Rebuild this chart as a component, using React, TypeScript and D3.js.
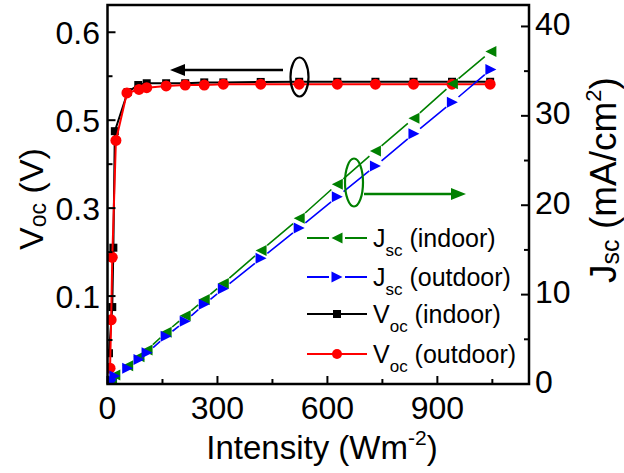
import React from "react";
import * as d3 from "d3";

// ---- data ----
const intensityJsc = [3, 7, 11, 20, 55, 86, 108, 160, 212, 264, 316, 419, 523, 627, 731, 836, 941, 1046];
const jscIndoor = [0.15, 0.3, 0.5, 1.0, 2.04, 3.04, 3.79, 5.79, 7.63, 9.44, 11.25, 14.93, 18.53, 22.36, 26.07, 29.73, 33.59, 37.21];
const jscOutdoor = [0.1, 0.25, 0.45, 0.9, 1.75, 2.75, 3.49, 5.35, 7.02, 8.91, 10.66, 14.07, 17.46, 20.95, 24.4, 28.0, 31.53, 35.18];

const intensityVocIndoor = [4, 13, 16, 20, 55, 84, 107, 160, 212, 264, 316, 418, 523, 627, 731, 835, 940, 1044];
const vocIndoor = [0.235, 0.2875, 0.355, 0.4875, 0.532, 0.54, 0.542, 0.542, 0.542, 0.543, 0.543, 0.5435, 0.5437, 0.5437, 0.5437, 0.5437, 0.5437, 0.5437];
const intensityVocOutdoor = [7, 10, 13, 23, 53, 86, 107, 160, 212, 264, 316, 418, 523, 627, 731, 835, 940, 1044];
const vocOutdoor = [0.218, 0.273, 0.344, 0.477, 0.531, 0.535, 0.537, 0.539, 0.54, 0.54, 0.541, 0.541, 0.541, 0.541, 0.541, 0.541, 0.541, 0.541];

const xMajorTicks = [0, 300, 600, 900];
const xMinorTicks = [150, 450, 750, 1050];
const leftMajorTicks = [0.6, 0.5, 0.4, 0.3];
const leftTickLabels = ["0.6", "0.5", "0.3", "0.1"];
const leftMinorTicks = [0.55, 0.45, 0.35, 0.25];
const rightMajorTicks = [0, 10, 20, 30, 40];
const rightMinorTicks = [5, 15, 25, 35];

const W = 624, H = 473;
const FONT = "Liberation Sans, Arial, sans-serif";
const GREEN = "#008000";

// line drawn as segments with small gaps around markers
function gappedSegments(pts: [number, number][], gap: number) {
  const out: string[] = [];
  for (let i = 0; i < pts.length - 1; i++) {
    const [ax, ay] = pts[i];
    const [bx, by] = pts[i + 1];
    const dx = bx - ax, dy = by - ay;
    const len = Math.hypot(dx, dy);
    if (len <= 2 * gap) continue;
    const ux = dx / len, uy = dy / len;
    out.push(`M${ax + ux * gap},${ay + uy * gap}L${bx - ux * gap},${by - uy * gap}`);
  }
  return out.join("");
}

export default function App() {
  const x = d3.scaleLinear().domain([0, 1150]).range([107.5, 529]);
  const yL = d3.scaleLinear().domain([0.2, 0.631]).range([384, 5]);
  const yR = d3.scaleLinear().domain([0, 42.4]).range([384, 5]);

  const lineL = (xs: number[], ys: number[]) =>
    d3.line<number>().x((_, i) => x(xs[i])).y((v) => yL(v))(ys) || "";
  const ptsR = (xs: number[], ys: number[]) =>
    ys.map((v, i) => [x(xs[i]), yR(v)] as [number, number]);

  const triLeft = (cx: number, cy: number, s = 5.5) =>
    `M${cx - s},${cy} L${cx + s},${cy - s} L${cx + s},${cy + s} Z`;
  const triRight = (cx: number, cy: number, s = 5.5) =>
    `M${cx + s},${cy} L${cx - s},${cy - s} L${cx - s},${cy + s} Z`;

  const [x0, x1] = x.range();
  const yb = 384, yt = 5;

  const legendRows = [
    { ly: 238, color: GREEN, kind: "tl", main: "J", sub: "sc", rest: " (indoor)" },
    { ly: 277, color: "#0000ff", kind: "tr", main: "J", sub: "sc", rest: " (outdoor)" },
    { ly: 314, color: "#000000", kind: "sq", main: "V", sub: "oc", rest: " (indoor)" },
    { ly: 354, color: "#ff0000", kind: "ci", main: "V", sub: "oc", rest: " (outdoor)" },
  ];

  return (
    <svg width={W} height={H} style={{ position: "absolute", left: 0, top: 0, background: "#fff" }} fontFamily={FONT}>
      <defs>
        <clipPath id="plot">
          <rect x={x0} y={yt} width={x1 - x0} height={yb - yt} />
        </clipPath>
      </defs>

      {/* Voc series */}
      <g clipPath="url(#plot)">
        <path d={lineL(intensityVocIndoor, vocIndoor)} fill="none" stroke="#000" strokeWidth={2} />
        {vocIndoor.map((v, i) => (
          <rect key={"bi" + i} x={x(intensityVocIndoor[i]) - 4} y={yL(v) - 4} width={8} height={8} fill="#000" />
        ))}
        <path d={lineL(intensityVocOutdoor, vocOutdoor)} fill="none" stroke="#ff0000" strokeWidth={2} />
        {vocOutdoor.map((v, i) => (
          <circle key={"ro" + i} cx={x(intensityVocOutdoor[i])} cy={yL(v)} r={5.5} fill="#ff0000" />
        ))}
        {/* Jsc series */}
        <path d={gappedSegments(ptsR(intensityJsc, jscIndoor), 8)} fill="none" stroke={GREEN} strokeWidth={1.6} />
        {jscIndoor.map((v, i) => (
          <path key={"gi" + i} d={triLeft(x(intensityJsc[i]), yR(v))} fill={GREEN} />
        ))}
        <path d={gappedSegments(ptsR(intensityJsc, jscOutdoor), 8)} fill="none" stroke="#0000ff" strokeWidth={1.6} />
        {jscOutdoor.map((v, i) => (
          <path key={"bo" + i} d={triRight(x(intensityJsc[i]), yR(v))} fill="#0000ff" />
        ))}
      </g>

      {/* frame */}
      <rect x={x0} y={yt} width={x1 - x0} height={yb - yt} fill="none" stroke="#000" strokeWidth={2.5} />

      {/* bottom ticks */}
      {xMajorTicks.map((t) => (
        <g key={"xm" + t}>
          <line x1={x(t)} x2={x(t)} y1={yb} y2={yb - 8} stroke="#000" strokeWidth={2} />
          <text x={x(t)} y={419} fontSize={32} textAnchor="middle">{t}</text>
        </g>
      ))}
      {xMinorTicks.map((t) => (
        <line key={"xn" + t} x1={x(t)} x2={x(t)} y1={yb} y2={yb - 5} stroke="#000" strokeWidth={2} />
      ))}

      {/* left ticks */}
      {leftMajorTicks.map((t, i) => (
        <g key={"lm" + t}>
          <line x1={x0} x2={x0 + 8} y1={yL(t)} y2={yL(t)} stroke="#000" strokeWidth={2} />
          <text x={100} y={yL(t) + 11.5} fontSize={32} textAnchor="end">{leftTickLabels[i]}</text>
        </g>
      ))}
      {leftMinorTicks.map((t) => (
        <line key={"ln" + t} x1={x0} x2={x0 + 5} y1={yL(t)} y2={yL(t)} stroke="#000" strokeWidth={2} />
      ))}

      {/* right ticks */}
      {rightMajorTicks.map((t) => (
        <g key={"rm" + t}>
          <line x1={x1} x2={x1 - 8} y1={yR(t)} y2={yR(t)} stroke="#000" strokeWidth={2} />
          <text x={535} y={yR(t) + 8.5} fontSize={32} textAnchor="start">{t}</text>
        </g>
      ))}
      {rightMinorTicks.map((t) => (
        <line key={"rn" + t} x1={x1} x2={x1 - 5} y1={yR(t)} y2={yR(t)} stroke="#000" strokeWidth={2} />
      ))}

      {/* axis titles */}
      <text x={322} y={459} fontSize={33} textAnchor="middle">
        Intensity (Wm<tspan fontSize={21} dy={-14}>-2</tspan><tspan dy={14}>)</tspan>
      </text>
      <text transform="translate(43,199) rotate(-90)" fontSize={34} textAnchor="middle">
        V<tspan fontSize={23} dy={3}>oc</tspan><tspan dy={-3}> (V)</tspan>
      </text>
      <text transform="translate(616,180) rotate(-90)" fontSize={37} textAnchor="middle">
        J<tspan fontSize={25} dy={3}>sc</tspan><tspan dy={-3}> (mA/cm</tspan><tspan fontSize={22} dy={-15}>2</tspan><tspan dy={15}>)</tspan>
      </text>

      {/* annotations */}
      <ellipse cx={299.5} cy={77} rx={9} ry={19.5} fill="none" stroke="#000" strokeWidth={2.2} />
      <line x1={283} y1={70} x2={182} y2={70} stroke="#000" strokeWidth={2.5} />
      <path d="M170,70 L185,64 L185,76 Z" fill="#000" />
      <ellipse cx={354} cy={182.5} rx={9} ry={24} fill="none" stroke={GREEN} strokeWidth={2.2} />
      <line x1={364} y1={194} x2={452} y2={194} stroke={GREEN} strokeWidth={2.5} />
      <path d="M466,194 L451,188 L451,200 Z" fill={GREEN} />

      {/* legend */}
      {legendRows.map((r, i) => (
        <g key={"lg" + i}>
          {(r.kind === "tl" || r.kind === "tr") ? (
            <path d={`M307,${r.ly}H329M345,${r.ly}H367`} stroke={r.color} strokeWidth={2} />
          ) : (
            <line x1={307} x2={367} y1={r.ly} y2={r.ly} stroke={r.color} strokeWidth={2} />
          )}
          {r.kind === "tl" && <path d={triLeft(337, r.ly)} fill={r.color} />}
          {r.kind === "tr" && <path d={triRight(337, r.ly)} fill={r.color} />}
          {r.kind === "sq" && <rect x={333} y={r.ly - 4} width={8} height={8} fill={r.color} />}
          {r.kind === "ci" && <circle cx={337} cy={r.ly} r={5} fill={r.color} />}
          <text x={373} y={r.ly + 9} fontSize={25}>
            {r.main}
            <tspan fontSize={17} dy={9}>{r.sub}</tspan>
            <tspan dy={-9}>{r.rest}</tspan>
          </text>
        </g>
      ))}
    </svg>
  );
}
